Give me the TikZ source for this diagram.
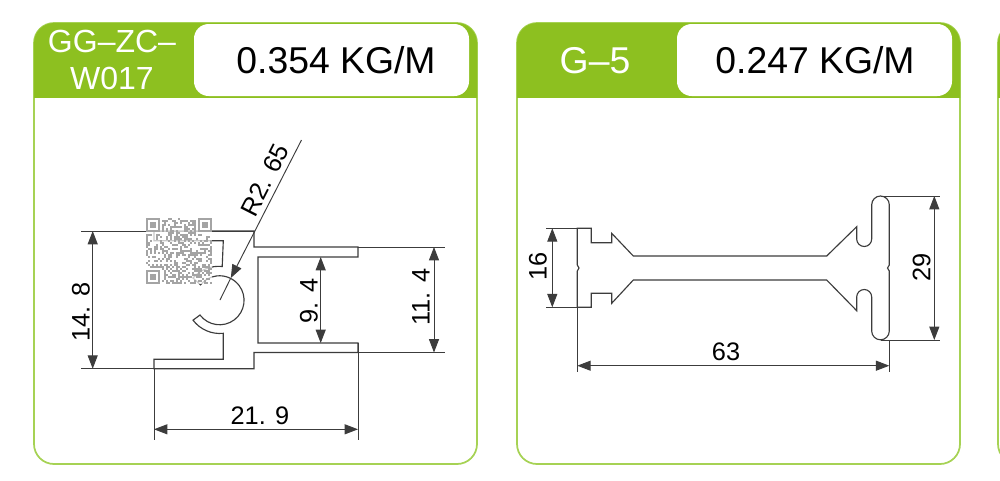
\documentclass[tikz,border=0pt]{standalone}
\usepackage{fontspec}
\setmainfont{Liberation Sans}
\usetikzlibrary{arrows.meta}
\definecolor{cardgreen}{HTML}{8DC020}
\definecolor{cardline}{HTML}{A6D254}
\definecolor{profile}{HTML}{3C3C3C}
\definecolor{qrgray}{HTML}{A4A4A4}
\tikzset{
  card/.style={draw=cardline, line width=1.3pt, fill=white, rounded corners=15pt},
  head/.style={fill=cardgreen, rounded corners=15pt},
  whitebox/.style={fill=white, rounded corners=11pt},
  weight/.style={font=\fontsize{28}{28}\selectfont, text=black, inner sep=0pt},
  code/.style={font=\fontsize{24}{25}\selectfont, text=white, inner sep=0pt, align=center},
  outline/.style={draw=profile, line width=0.85pt, line join=miter},
  dimline/.style={draw=profile, line width=0.7pt, {Triangle[length=10pt,width=7.5pt]}-{Triangle[length=10pt,width=7.5pt]}},
  extline/.style={draw=profile, line width=0.7pt},
  dimtext/.style={font=\fontsize{19}{19}\selectfont, text=black, inner sep=0pt},
}
\begin{document}
\begin{tikzpicture}[x=0.75pt, y=-0.75pt]
  \useasboundingbox (0,0) rectangle (1000,480);
  \clip (0,0) rectangle (1000,480);
  % cards
  \foreach \cx in {34,517,998} {
    \draw[card] (\cx,23) rectangle ++(443,441);
    \begin{scope}
      \clip (\cx-2,20) rectangle ++(447,77);
      \fill[head] (\cx,23) rectangle ++(443,120);
    \end{scope}
  }
  \fill[whitebox] (194,24) rectangle (469,96);
  \fill[whitebox] (677,24) rectangle (952,96);
  \node[code] (code1) at (112,60) {GG–ZC–\\[3pt]W017};
  \node[weight] (weight1) at (336,60) {0.354 KG/M};
  \node[code, font=\fontsize{28}{28}\selectfont] (code2) at (595,61) {G–5};
  \node[weight] (weight2) at (815,60) {0.247 KG/M};

  % first profile
  \draw[outline] (154,231) -- (254,231) -- (254,247) -- (358,247) -- (358,257) -- (258,257)
    -- (258,343) -- (358,343) -- (358,352.5) -- (254,352.5) -- (254,368.7) -- (154,368.7)
    -- (154,359.3) -- (223.3,359.3) -- (223.3,333.3)
    arc[start angle=84, end angle=143, radius=33.5] -- (200,315)
    arc[start angle=143, end angle=-141, radius=24.5] -- (193,278)
    arc[start angle=-139, end angle=-84, radius=34] -- (223.3,240.7) -- (154,240.7) -- cycle;
  % first dimensions
  \coordinate (a1) at (81,231);
  \coordinate (a2) at (81,368.7);
  \coordinate (a3) at (254,231);
  \coordinate (a4) at (154,368.7);
  \coordinate (a5) at (154,440);
  \coordinate (a6) at (358,343);
  \coordinate (a7) at (358,440);
  \coordinate (a8) at (445,247);
  \coordinate (a9) at (445,352.5);
  \coordinate (a10) at (358,247);
  \coordinate (a11) at (358,352.5);
  \coordinate (w1) at (92.7,231);
  \coordinate (w2) at (92.7,368.7);
  \coordinate (h1) at (320.7,257);
  \coordinate (h2) at (320.7,343);
  \coordinate (e1) at (434,247);
  \coordinate (e2) at (434,352.5);
  \coordinate (b1) at (154,429.3);
  \coordinate (b2) at (358,429.3);
  \coordinate (r1) at (301.5,140);
  \coordinate (r2) at (230.8,278);
  \coordinate (r3) at (220,300);
  \draw[extline] (a1) -- (a3);
  \draw[extline] (a2) -- (a4);
  \draw[extline] (a4) -- (a5);
  \draw[extline] (a6) -- (a7);
  \draw[extline] (a10) -- (a8);
  \draw[extline] (a11) -- (a9);
  \draw[dimline] (w1) -- (w2);
  \draw[dimline] (h1) -- (h2);
  \draw[dimline] (e1) -- (e2);
  \draw[dimline] (b1) -- (b2);
  \draw[extline, -{Triangle[length=10pt,width=7.5pt]}] (r1) -- (r2);
  \draw[extline] (r2) -- (r3);
  \node[dimtext, rotate=90] (t148) at (81,312) {14. 8};
  \node[dimtext, rotate=90] (t94) at (309,301) {9. 4};
  \node[dimtext, rotate=90] (t114) at (421,297) {11. 4};
  \node[dimtext] (t219) at (260,416) {21. 9};
  \node[dimtext, rotate=63] (tr) at (265,180) {R2. 65};

  % qr mark
  \fill[white, opacity=0.72] (145.5,218) rectangle (211.5,284);
  \begin{scope}[shift={(145.5,218)}]
    \pgfmathsetseed{4242}
    \foreach \i in {0,...,32} {
      \foreach \j in {0,...,32} {
        \pgfmathparse{(\i<8 && \j<8) || (\i>24 && \j<8) || (\i<8 && \j>24) ? 0 : (rnd<0.46 ? 1 : 0)}
        \ifnum\pgfmathresult=1
          \fill[qrgray] (\i*2,\j*2) rectangle ++(2,2);
        \fi
      }
    }
    \foreach \px/\py in {0/0,52/0,0/52} {
      \draw[qrgray, line width=1.5pt] (\px+1,\py+1) rectangle ++(12,12);
      \fill[qrgray] (\px+4,\py+4) rectangle ++(6,6);
    }
  \end{scope}

  % second profile
  \draw[outline] (577.3,228.3) -- (591.3,228.3) -- (591.3,242.7) -- (611.7,242.7) -- (611.7,233.3)
    -- (633.3,256) -- (826.7,256) -- (856.7,226.7) -- (856.7,239)
    arc[start angle=180, end angle=0, radius=7.5] -- (871.7,204.8)
    arc[start angle=180, end angle=360, radius=8.8] -- (889.3,265) -- (887.5,268) -- (889.3,271) -- (889.3,331)
    arc[start angle=0, end angle=180, radius=8.8] -- (871.7,297)
    arc[start angle=0, end angle=-180, radius=7.5] -- (856.7,310.7)
    -- (826.7,280) -- (633.3,280) -- (611.7,303.3) -- (611.7,293.3) -- (591.3,293.3) -- (591.3,307.3)
    -- (577.3,307.3) -- (577.3,271) -- (579,268) -- (577.3,265) -- cycle;
  % second dimensions
  \coordinate (c1) at (546,228.3);
  \coordinate (c2) at (577.3,228.3);
  \coordinate (c3) at (546,307.3);
  \coordinate (c4) at (577.3,307.3);
  \coordinate (c5) at (577.3,371.7);
  \coordinate (c6) at (889.3,340);
  \coordinate (c7) at (889.3,371.7);
  \coordinate (c8) at (880.5,196);
  \coordinate (c9) at (940,196);
  \coordinate (c10) at (880.5,340);
  \coordinate (c11) at (940,340);
  \coordinate (s1) at (552.3,228.3);
  \coordinate (s2) at (552.3,307.3);
  \coordinate (n1) at (934.3,196);
  \coordinate (n2) at (934.3,340);
  \coordinate (l1) at (577.3,365.7);
  \coordinate (l2) at (889.3,365.7);
  \draw[extline] (c1) -- (c2);
  \draw[extline] (c3) -- (c4);
  \draw[extline] (c4) -- (c5);
  \draw[extline] (c6) -- (c7);
  \draw[extline] (c8) -- (c9);
  \draw[extline] (c10) -- (c11);
  \draw[dimline] (s1) -- (s2);
  \draw[dimline] (n1) -- (n2);
  \draw[dimline] (l1) -- (l2);
  \node[dimtext, rotate=90] (t16) at (538,266.7) {16};
  \node[dimtext, rotate=90] (t29) at (921.7,267) {29};
  \node[dimtext] (t63) at (726,351.7) {63};
\end{tikzpicture}
\end{document}
